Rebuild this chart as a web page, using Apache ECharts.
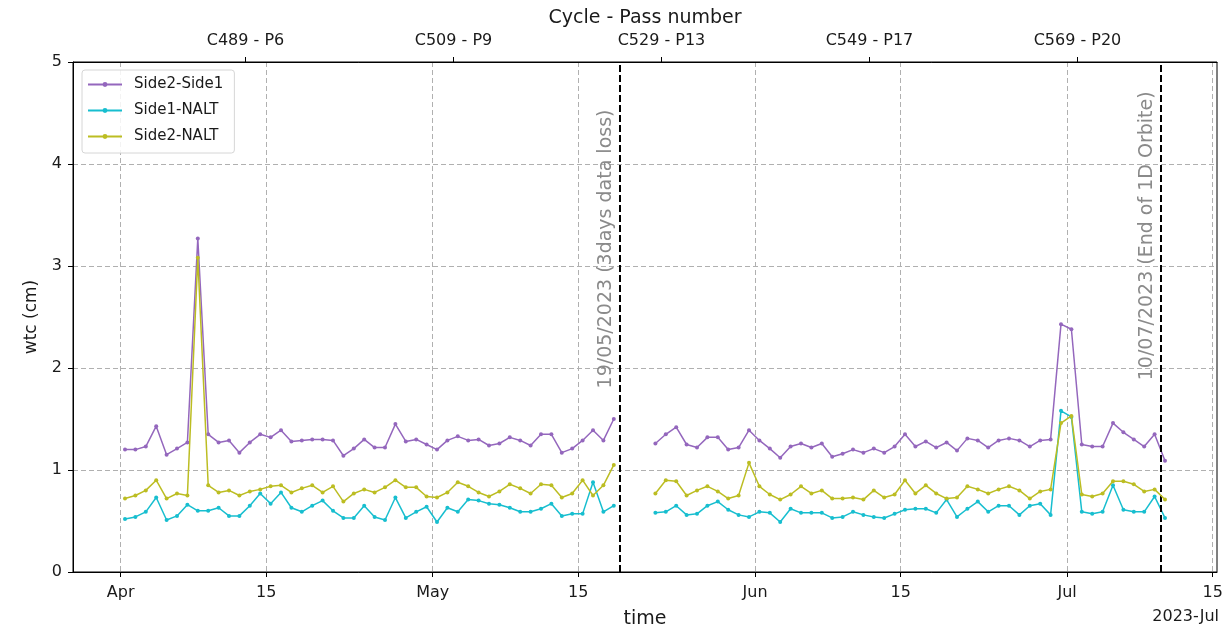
<!DOCTYPE html>
<html>
<head>
<meta charset="utf-8">
<script src="https://cdn.jsdelivr.net/npm/echarts@6/dist/echarts.min.js"></script>
<style>
  html, body { margin: 0; padding: 0; background: #ffffff; }
  #chart { width: 1224px; height: 630px; }
</style>
</head>
<body>
<div id="chart"></div>
<script>
// Daily samples, first one on 1 April 2023 around 10:00 UTC; null = no data
const firstDay = '2023-04-01';
const sampleHour = 10;

const side2Side1 = [
  1.20, 1.20, 1.23, 1.43, 1.15, 1.21, 1.27, 3.27, 1.35, 1.27, 1.29, 1.17,
  1.27, 1.35, 1.32, 1.39, 1.28, 1.29, 1.30, 1.30, 1.29, 1.14, 1.21, 1.30,
  1.22, 1.22, 1.45, 1.28, 1.30, 1.25, 1.20, 1.29, 1.33, 1.29, 1.30, 1.24,
  1.26, 1.32, 1.29, 1.24, 1.35, 1.35, 1.17, 1.21, 1.29, 1.39, 1.29, 1.50,
  null, null, null,
  1.26, 1.35, 1.42, 1.25, 1.22, 1.32, 1.32, 1.20, 1.22, 1.39, 1.29, 1.21,
  1.12, 1.23, 1.26, 1.22, 1.26, 1.13, 1.16, 1.20, 1.17, 1.21, 1.17, 1.23,
  1.35, 1.23, 1.28, 1.22, 1.27, 1.19, 1.31, 1.29, 1.22, 1.29, 1.31, 1.29,
  1.23, 1.29, 1.30, 2.43, 2.38, 1.25, 1.23, 1.23, 1.46, 1.37, 1.30, 1.23, 1.35, 1.09
];

const side1Nalt = [
  0.52, 0.54, 0.59, 0.73, 0.51, 0.55, 0.66, 0.60, 0.60, 0.63, 0.55, 0.55,
  0.65, 0.77, 0.67, 0.78, 0.63, 0.59, 0.65, 0.70, 0.60, 0.53, 0.53, 0.65,
  0.54, 0.51, 0.73, 0.53, 0.59, 0.64, 0.49, 0.63, 0.59, 0.71, 0.70, 0.67,
  0.66, 0.63, 0.59, 0.59, 0.62, 0.67, 0.55, 0.57, 0.57, 0.88, 0.59, 0.65,
  null, null, null,
  0.58, 0.59, 0.65, 0.56, 0.57, 0.65, 0.69, 0.61, 0.56, 0.54, 0.59, 0.58,
  0.49, 0.62, 0.58, 0.58, 0.58, 0.53, 0.54, 0.59, 0.56, 0.54, 0.53, 0.57,
  0.61, 0.62, 0.62, 0.58, 0.71, 0.54, 0.62, 0.69, 0.59, 0.65, 0.65, 0.56,
  0.65, 0.67, 0.56, 1.58, 1.52, 0.59, 0.57, 0.59, 0.85, 0.61, 0.59, 0.59, 0.74, 0.53
];

const side2Nalt = [
  0.72, 0.75, 0.80, 0.90, 0.72, 0.77, 0.75, 3.08, 0.85, 0.78, 0.80, 0.75,
  0.79, 0.81, 0.84, 0.85, 0.78, 0.82, 0.85, 0.78, 0.84, 0.69, 0.77, 0.81,
  0.78, 0.83, 0.90, 0.83, 0.83, 0.74, 0.73, 0.78, 0.88, 0.84, 0.78, 0.74,
  0.79, 0.86, 0.82, 0.77, 0.86, 0.85, 0.73, 0.77, 0.90, 0.75, 0.85, 1.05,
  null, null, null,
  0.77, 0.90, 0.89, 0.75, 0.80, 0.84, 0.79, 0.72, 0.75, 1.07, 0.84, 0.76,
  0.71, 0.76, 0.84, 0.77, 0.80, 0.72, 0.72, 0.73, 0.71, 0.80, 0.73, 0.76,
  0.90, 0.77, 0.85, 0.77, 0.72, 0.73, 0.84, 0.81, 0.77, 0.81, 0.84, 0.80,
  0.72, 0.79, 0.81, 1.46, 1.53, 0.76, 0.74, 0.77, 0.89, 0.89, 0.86, 0.79, 0.81, 0.71
];

const seriesNames = ['Side2-Side1', 'Side1-NALT', 'Side2-NALT'];
const seriesColors = ['#9467bd', '#17becf', '#bcbd22'];

// Bottom date axis ticks
const dateTicks = ['2023-04-01', '2023-04-15', '2023-05-01', '2023-05-15',
                   '2023-06-01', '2023-06-15', '2023-07-01', '2023-07-15'];
const monthNames = ['Jan', 'Feb', 'Mar', 'Apr', 'May', 'Jun', 'Jul', 'Aug', 'Sep', 'Oct', 'Nov', 'Dec'];

// Top axis: cycle / pass markers
const cycleTicks = ['2023-04-13', '2023-05-03', '2023-05-23', '2023-06-12', '2023-07-02'];
const cycleLabels = ['C489 - P6', 'C509 - P9', 'C529 - P13', 'C549 - P17', 'C569 - P20'];

// Event lines
const eventDates = ['2023-05-19', '2023-07-10'];
const eventTexts = ['19/05/2023 (3days data loss)', '10/07/2023 (End of 1D Orbite)'];
const eventTextY = [1.80, 1.88];

const DAY = 86400000;
const utc = s => { const p = s.split('-').map(Number); return Date.UTC(p[0], p[1] - 1, p[2]); };
const t0 = utc(firstDay) + sampleHour * 3600000;
const sampleTimes = side2Side1.map((_, i) => t0 + i * DAY);
const lastTime = sampleTimes[sampleTimes.length - 1];
const pad = (lastTime - t0) * 0.05;
const xMin = t0 - pad;
const xMax = lastTime + pad;

const FONT = 'DejaVu Sans';
const TICK_SIZE = 16;
const toPairs = vals => vals.map((v, i) => [sampleTimes[i], v === null ? '-' : v]);

const chart = echarts.init(document.getElementById('chart'), null, { renderer: 'canvas' });

const cycleMap = {};
cycleTicks.forEach((d, i) => { cycleMap[utc(d)] = cycleLabels[i]; });

const gridDash = { color: '#b0b0b0', width: 1, type: [5, 3] };

const series = [side2Side1, side1Nalt, side2Nalt].map((vals, k) => ({
  name: seriesNames[k],
  type: 'line',
  xAxisIndex: 0,
  yAxisIndex: 0,
  data: toPairs(vals),
  connectNulls: false,
  symbol: 'circle',
  symbolSize: 4,
  showSymbol: true,
  animation: false,
  lineStyle: { width: 1.5, color: seriesColors[k] },
  itemStyle: { color: seriesColors[k] },
  emphasis: { disabled: true },
  z: 3 + k
}));

series[0].markLine = {
  silent: true,
  symbol: ['none', 'none'],
  animation: false,
  label: { show: false },
  lineStyle: { color: '#000000', width: 2, type: [7, 3] },
  data: eventDates.map(d => ({ xAxis: utc(d) }))
};

chart.setOption({
  animation: false,
  backgroundColor: '#ffffff',
  textStyle: { fontFamily: FONT },
  grid: {
    left: 73, right: 7, top: 62, bottom: 58,
    outerBoundsMode: 'none',
    containLabel: false,
    show: true, borderColor: '#000000', borderWidth: 1, backgroundColor: 'transparent'
  },
  legend: {
    orient: 'vertical',
    left: 82, top: 70,
    padding: [7, 11, 9, 5],
    itemWidth: 34, itemHeight: 6, itemGap: 11,
    backgroundColor: 'rgba(255,255,255,0.85)',
    borderColor: '#d6d6d6', borderWidth: 1, borderRadius: 3,
    textStyle: { fontFamily: FONT, fontSize: 15, color: '#1a1a1a', lineHeight: 15, padding: [0, 0, 0, 7] },
    data: seriesNames
  },
  xAxis: [
    {
      type: 'value',
      position: 'bottom',
      min: xMin, max: xMax,
      name: 'time',
      nameLocation: 'middle',
      nameGap: 38,
      nameTextStyle: { fontFamily: FONT, fontSize: 19, color: '#1a1a1a' },
      axisLine: { show: true, onZero: false, lineStyle: { color: '#000000', width: 1 } },
      axisTick: { show: true, inside: false, length: 5, customValues: dateTicks.map(utc), lineStyle: { color: '#000' } },
      axisLabel: {
        show: true, margin: 13,
        customValues: dateTicks.map(utc),
        fontFamily: FONT, fontSize: TICK_SIZE, color: '#1a1a1a',
        formatter: v => {
          const d = new Date(v);
          return d.getUTCDate() === 1 ? monthNames[d.getUTCMonth()] : String(d.getUTCDate());
        }
      },
      splitLine: { show: true, lineStyle: gridDash }
    },
    {
      type: 'value',
      position: 'top',
      min: xMin, max: xMax,
      name: 'Cycle - Pass number',
      nameLocation: 'middle',
      nameGap: 34,
      nameTextStyle: { fontFamily: FONT, fontSize: 19, color: '#1a1a1a' },
      axisLine: { show: true, onZero: false, lineStyle: { color: '#000000', width: 1 } },
      axisTick: { show: true, inside: false, length: 5, customValues: cycleTicks.map(utc), lineStyle: { color: '#000' } },
      axisLabel: {
        show: true, margin: 13,
        customValues: cycleTicks.map(utc),
        fontFamily: FONT, fontSize: TICK_SIZE, color: '#1a1a1a',
        formatter: v => cycleMap[v] || ''
      },
      splitLine: { show: false }
    }
  ],
  yAxis: {
    type: 'value',
    min: 0, max: 5, interval: 1,
    name: 'wtc (cm)',
    nameLocation: 'middle',
    nameGap: 33,
    nameRotate: 90,
    nameTextStyle: { fontFamily: FONT, fontSize: 17, color: '#1a1a1a' },
    axisLine: { show: true, onZero: false, lineStyle: { color: '#000000', width: 1 } },
    axisTick: { show: true, inside: false, length: 5, lineStyle: { color: '#000' } },
    axisLabel: { fontFamily: FONT, fontSize: TICK_SIZE, color: '#1a1a1a', margin: 11 },
    splitLine: { show: true, lineStyle: gridDash }
  },
  series: series
});

// Rotated annotations beside each event line, placed through the axes
const graphics = eventDates.map((d, i) => {
  const px = chart.convertToPixel({ xAxisIndex: 0 }, utc(d));
  const py = chart.convertToPixel({ yAxisIndex: 0 }, eventTextY[i]);
  return {
    type: 'text',
    x: px - 14,
    y: py,
    rotation: Math.PI / 2,
    silent: true,
    z: 10,
    style: {
      text: eventTexts[i],
      fill: '#8a8a8a',
      font: '19px "DejaVu Sans"',
      align: 'left',
      verticalAlign: 'middle'
    }
  };
});

// Date offset label under the right end of the time axis
const rightEdge = chart.convertToPixel({ xAxisIndex: 0 }, xMax);
const bottomEdge = chart.convertToPixel({ yAxisIndex: 0 }, 0);
graphics.push({
  type: 'text',
  x: rightEdge + 2,
  y: bottomEdge + 45,
  silent: true,
  style: {
    text: '2023-Jul',
    fill: '#1a1a1a',
    font: TICK_SIZE + 'px "DejaVu Sans"',
    align: 'right',
    verticalAlign: 'middle'
  }
});

chart.setOption({ graphic: graphics });
</script>
</body>
</html>
